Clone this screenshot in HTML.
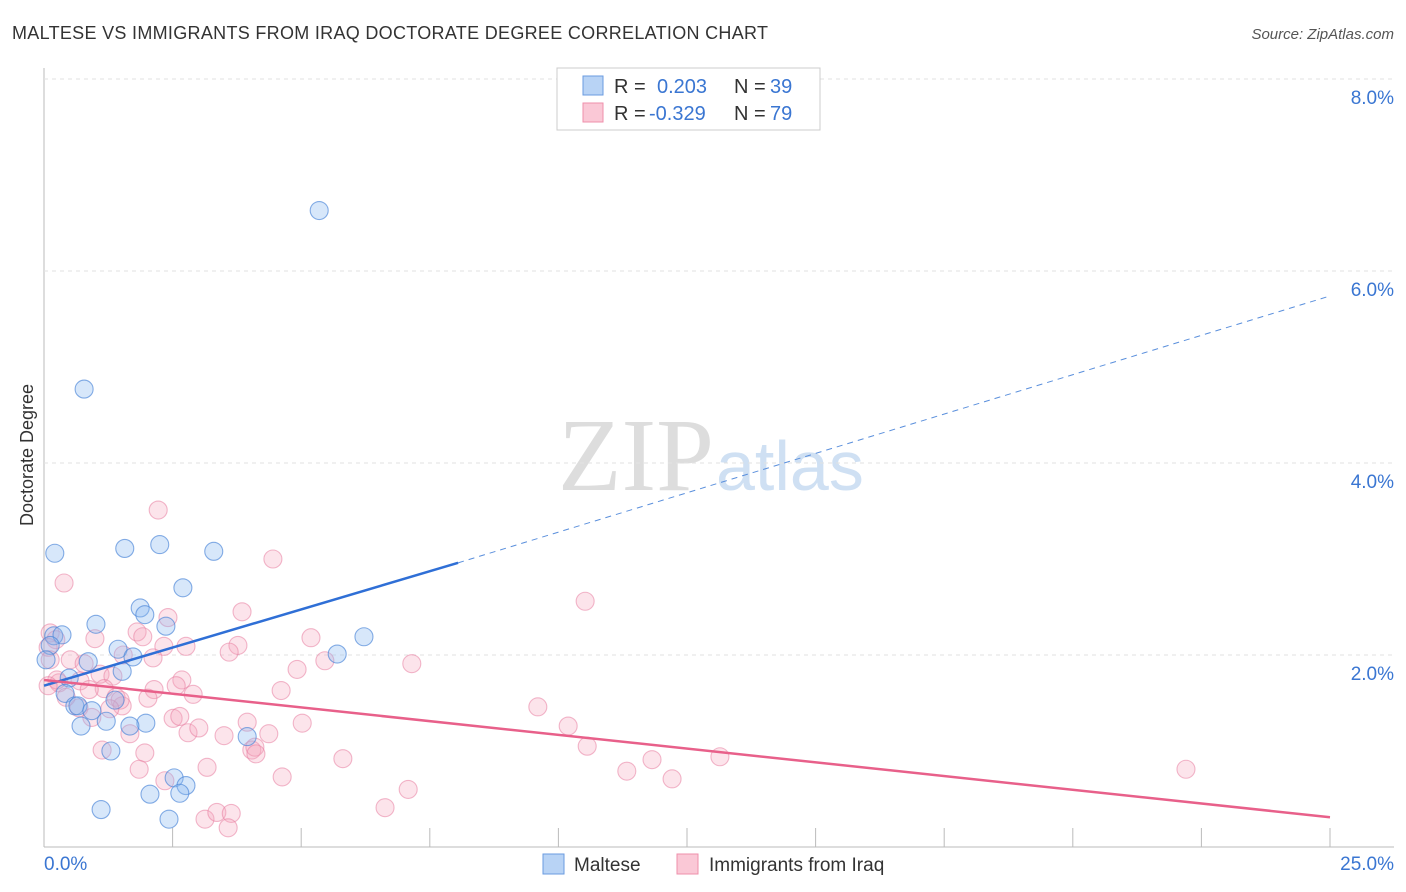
<!DOCTYPE html>
<html><head><meta charset="utf-8"><style>
body{margin:0;background:#fff;font-family:"Liberation Sans",sans-serif;}
svg{display:block}
</style></head><body>
<svg id="c" width="1406" height="892">
<text x="12" y="39" font-size="18" fill="#333" textLength="756">MALTESE VS IMMIGRANTS FROM IRAQ DOCTORATE DEGREE CORRELATION CHART</text>
<text x="1394" y="39" font-size="15" fill="#555" text-anchor="end" font-style="italic">Source: ZipAtlas.com</text>
<text x="33" y="455" font-size="18" fill="#333" transform="rotate(-90 33 455)" text-anchor="middle">Doctorate Degree</text>
<text x="714" y="490" font-size="104" fill="#ddd" text-anchor="end" font-family="Liberation Serif">ZIP</text>
<text x="716" y="490" font-size="70" fill="#cfe0f3">atlas</text>
<g id="grid"></g><g id="pts"></g><g id="lines"></g>
<g>
<rect x="557" y="68" width="263" height="62" fill="#fff" stroke="#ccc"/>
<rect x="583" y="76" width="20" height="19" fill="#b8d3f5" stroke="#6a9be0"/>
<rect x="583" y="103" width="20" height="19" fill="#fac8d6" stroke="#ef8fab"/>
<text x="614" y="93" font-size="20" fill="#333">R =</text>
<text x="657" y="93" font-size="20" fill="#3a76d2">0.203</text>
<text x="734" y="93" font-size="20" fill="#333">N =</text>
<text x="770" y="93" font-size="20" fill="#3a76d2">39</text>
<text x="614" y="120" font-size="20" fill="#333">R =</text>
<text x="649" y="120" font-size="20" fill="#3a76d2">-0.329</text>
<text x="734" y="120" font-size="20" fill="#333">N =</text>
<text x="770" y="120" font-size="20" fill="#3a76d2">79</text>
</g>
<g>
<rect x="543" y="854" width="21" height="20" fill="#b8d3f5" stroke="#6a9be0"/>
<text x="574" y="871" font-size="19" fill="#333">Maltese</text>
<rect x="677" y="854" width="21" height="20" fill="#fac8d6" stroke="#ef8fab"/>
<text x="709" y="871" font-size="19" fill="#333">Immigrants from Iraq</text>
</g>
<text x="44" y="870" font-size="19" fill="#3a76d2">0.0%</text>
<text x="1394" y="870" font-size="19" fill="#3a76d2" text-anchor="end">25.0%</text>
</svg>
<script>
const yTicks=[2,4,6,8];
const yTickLabels=["2.0%","4.0%","6.0%","8.0%"];
const xTicks=[0,2.5,5,7.5,10,12.5,15,17.5,20,22.5,25];
const malteseX=[0.21,0.78,5.35,1.57,2.25,3.30,2.70,1.87,1.96,2.37,1.01,0.19,0.35,1.44,1.73,0.86,1.52,0.49,0.41,0.60,0.66,0.93,0.72,1.21,1.98,1.67,1.38,1.30,3.95,2.53,2.06,2.76,2.64,1.11,2.43,6.22,5.70,0.12,0.04];
const malteseY=[3.06,4.77,6.63,3.11,3.15,3.08,2.70,2.49,2.42,2.30,2.32,2.20,2.21,2.06,1.98,1.93,1.83,1.76,1.60,1.47,1.47,1.42,1.26,1.31,1.29,1.26,1.53,1.00,1.15,0.72,0.55,0.64,0.56,0.39,0.29,2.19,2.01,2.10,1.95];
const iraqX=[2.22,0.39,4.45,10.52,0.12,0.23,0.08,0.99,2.41,1.81,1.92,3.85,5.19,3.77,3.60,2.76,2.33,1.54,2.12,0.51,0.78,7.15,5.46,4.92,0.29,0.70,1.09,1.34,2.68,2.57,2.14,2.90,4.61,1.17,1.40,0.68,0.93,1.52,2.02,1.48,2.51,2.64,3.95,5.02,2.80,3.01,3.50,4.37,9.60,10.19,10.56,1.67,1.13,1.96,4.04,4.10,4.12,5.81,3.17,1.85,11.82,13.14,11.33,12.21,22.20,2.35,4.63,7.08,3.13,3.36,3.64,3.58,6.63,0.25,0.12,1.28,0.43,0.08,0.88];
const iraqY=[3.51,2.75,3.00,2.56,2.23,2.16,2.08,2.17,2.39,2.24,2.19,2.45,2.18,2.10,2.03,2.09,2.09,2.00,1.97,1.95,1.91,1.91,1.94,1.85,1.71,1.73,1.80,1.78,1.74,1.68,1.64,1.59,1.63,1.65,1.56,1.45,1.35,1.47,1.55,1.53,1.34,1.36,1.30,1.29,1.19,1.24,1.16,1.18,1.46,1.26,1.05,1.18,1.01,0.98,1.01,1.04,0.97,0.92,0.83,0.81,0.91,0.94,0.79,0.71,0.81,0.69,0.73,0.60,0.29,0.36,0.35,0.20,0.41,1.74,1.95,1.44,1.56,1.68,1.64];
const maltTrend=[[0,1.68],[8.05,2.96],[25,5.74]];
const iraqTrend=[[0,1.74],[25,0.31]];
const X=v=>44+v*51.44, Y=v=>847-v*96;
const NS="http://www.w3.org/2000/svg";
function mk(t,a,p){const e=document.createElementNS(NS,t);for(const k in a)e.setAttribute(k,a[k]);p.appendChild(e);return e;}
const g=document.getElementById('grid');
const ax=mk('line',{x1:44,y1:68,x2:44,y2:847,stroke:'#bbb'},g);


const bx=mk('line',{x1:44,y1:847,x2:1394,y2:847,stroke:'#bbb'},g);


yTicks.forEach((t,i)=>{
 const l=mk('line',{x1:44,y1:Y(t),x2:1394,y2:Y(t),stroke:'#e2e2e2','stroke-dasharray':'4,4'},g);
 
 
 const tx=mk('text',{x:1394,y:Y(t)+25,'font-size':19,fill:'#3a76d2','text-anchor':'end'},g);
 tx.textContent=yTickLabels[i];
 
 
});
xTicks.forEach(t=>{
 const l=mk('line',{x1:X(t),y1:828,x2:X(t),y2:847,stroke:'#bbb'},g);
 
 
});
const p=document.getElementById('pts');
iraqX.forEach((x,i)=>{
 const c=mk('circle',{cx:X(x),cy:Y(iraqY[i]),r:9,fill:'rgba(245,165,190,0.3)',stroke:'rgba(232,125,160,0.55)','stroke-width':1.1},p);
 
 
});
malteseX.forEach((x,i)=>{
 const c=mk('circle',{cx:X(x),cy:Y(malteseY[i]),r:9,fill:'rgba(140,185,240,0.35)',stroke:'rgba(70,130,215,0.65)','stroke-width':1.1},p);
 
 
});
const L=document.getElementById('lines');
const m1=mk('line',{x1:X(maltTrend[0][0]),y1:Y(maltTrend[0][1]),x2:X(maltTrend[1][0]),y2:Y(maltTrend[1][1]),stroke:'#2f6fd6','stroke-width':2.5},L);


const m2=mk('line',{x1:X(maltTrend[1][0]),y1:Y(maltTrend[1][1]),x2:X(maltTrend[2][0]),y2:Y(maltTrend[2][1]),stroke:'#5a8fdc','stroke-width':1,'stroke-dasharray':'6,5'},L);


const i1=mk('line',{x1:X(iraqTrend[0][0]),y1:Y(iraqTrend[0][1]),x2:X(iraqTrend[1][0]),y2:Y(iraqTrend[1][1]),stroke:'#e8608a','stroke-width':2.5},L);


</script>
</body></html>
